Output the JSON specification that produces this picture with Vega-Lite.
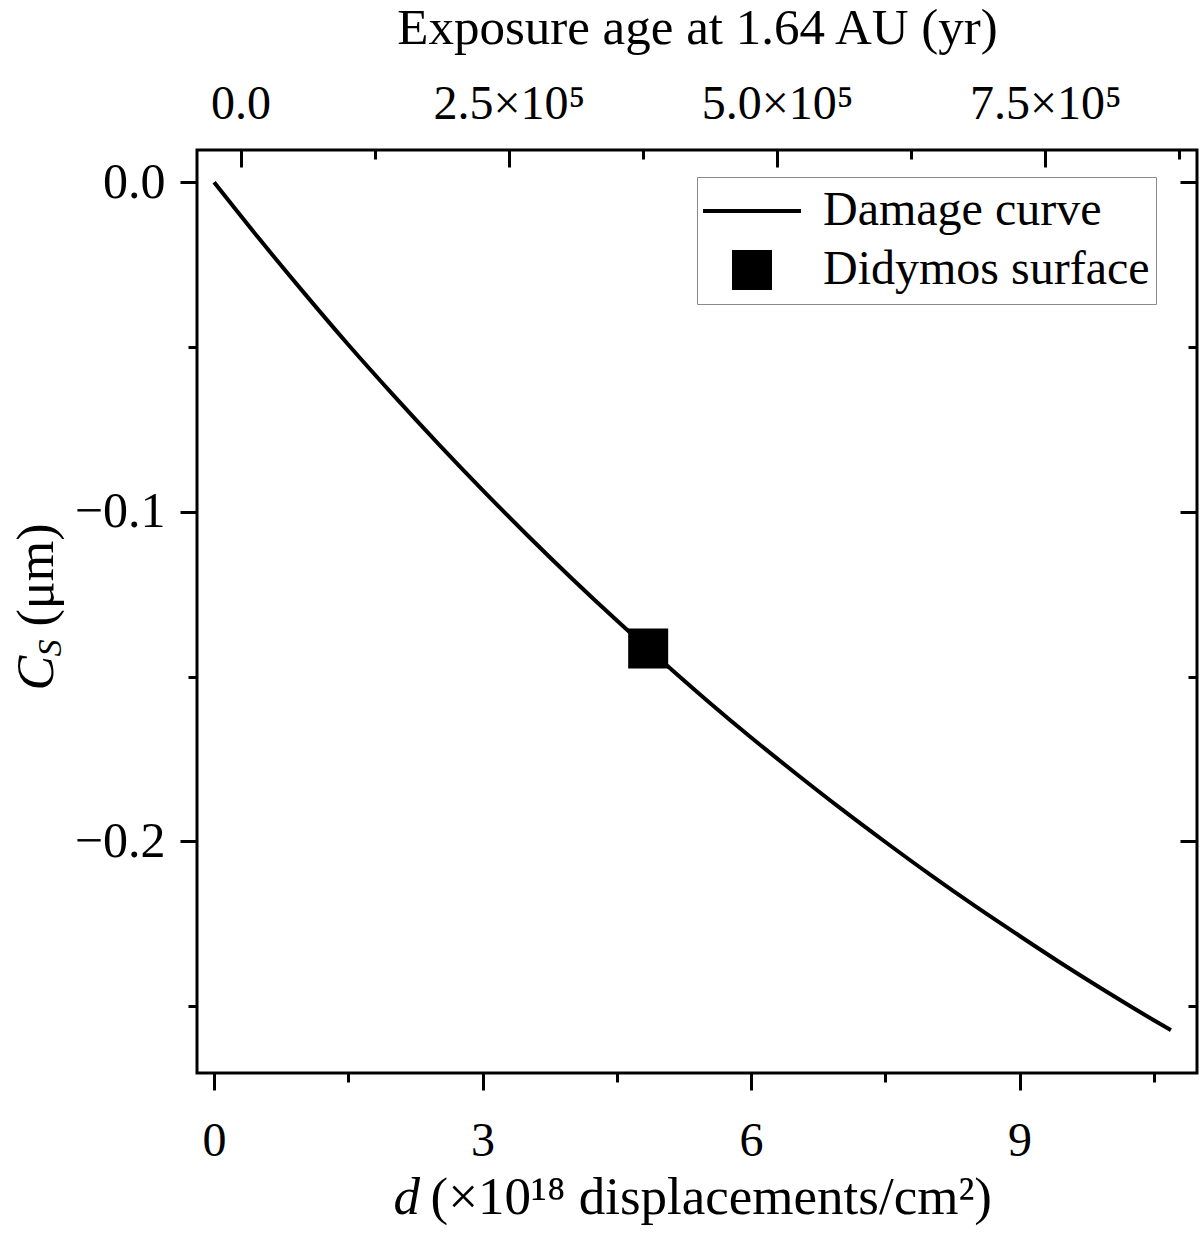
{
  "$schema": "https://vega.github.io/schema/vega-lite/v6.json",
  "autosize": "none",
  "width": 1000,
  "height": 923,
  "padding": {"left": 197, "top": 150, "right": 3, "bottom": 160},
  "background": "white",
  "datasets": {
    "curve": [
      {"d": 0, "C": 0},
      {"d": 0.5, "C": -0.0170},
      {"d": 1, "C": -0.0334},
      {"d": 1.5, "C": -0.0493},
      {"d": 2, "C": -0.0645},
      {"d": 2.5, "C": -0.0792},
      {"d": 3, "C": -0.0934},
      {"d": 3.5, "C": -0.1071},
      {"d": 4, "C": -0.1203},
      {"d": 4.5, "C": -0.1330},
      {"d": 5, "C": -0.1452},
      {"d": 5.5, "C": -0.1571},
      {"d": 6, "C": -0.1685},
      {"d": 6.5, "C": -0.1794},
      {"d": 7, "C": -0.1900},
      {"d": 7.5, "C": -0.2002},
      {"d": 8, "C": -0.2101},
      {"d": 8.5, "C": -0.2196},
      {"d": 9, "C": -0.2287},
      {"d": 9.5, "C": -0.2376},
      {"d": 10, "C": -0.2461},
      {"d": 10.5, "C": -0.2543},
      {"d": 10.69, "C": -0.2573}
    ],
    "marker": [
      {"series": "Didymos surface", "d": 4.85, "C": -0.1415, "age": 380000}
    ]
  },
  "layer": [
    {
      "data": {"name": "curve"},
      "mark": {"type": "line", "color": "black", "strokeWidth": 4, "interpolate": "monotone"},
      "encoding": {
        "x": {
          "field": "d", "type": "quantitative",
          "scale": {"domain": [-0.1911, 10.982], "nice": false, "zero": false},
          "axis": {
            "orient": "bottom", "values": [0, 3, 6, 9], "format": "d",
            "tickSize": 17, "labelPadding": 27, "labelFlush": false,
            "title": "(×10¹⁸ displacements/cm²)", "titleAlign": "left",
            "titleX": 233, "titleY": 140, "titleBaseline": "alphabetic", "titleFontSize": 53
          }
        },
        "y": {
          "field": "C", "type": "quantitative",
          "scale": {"domain": [-0.2703, 0.0098], "nice": false, "zero": false},
          "axis": {
            "orient": "left", "values": [0, -0.1, -0.2], "format": ".1f",
            "tickSize": 17, "labelPadding": 15, "labelFontSize": 50,
            "title": "(μm)", "titleAngle": 270, "titleAlign": "left",
            "titleX": -145, "titleY": 476, "titleBaseline": "alphabetic"
          }
        }
      }
    },
    {
      "data": {"name": "marker"},
      "mark": {"type": "point", "filled": true, "color": "black", "strokeWidth": 0, "opacity": 1},
      "encoding": {
        "x": {
          "field": "d", "type": "quantitative",
          "scale": {"domain": [-0.1911, 10.982], "nice": false, "zero": false},
          "axis": {
            "orient": "bottom", "values": [1.5, 4.5, 7.5, 10.5], "tickSize": 9,
            "labels": false, "title": "d", "titleFontStyle": "italic", "titleAlign": "left",
            "titleX": 196, "titleY": 140, "titleBaseline": "alphabetic", "titleFontSize": 53
          }
        },
        "y": {
          "field": "C", "type": "quantitative",
          "scale": {"domain": [-0.2703, 0.0098], "nice": false, "zero": false},
          "axis": {
            "orient": "left", "values": [-0.05, -0.15, -0.25], "tickSize": 9,
            "labels": false, "title": "C", "titleFontStyle": "italic", "titleAngle": 270,
            "titleAlign": "left", "titleX": -145, "titleY": 540, "titleBaseline": "alphabetic"
          }
        },
        "shape": {
          "field": "series", "type": "nominal",
          "scale": {"domain": ["Damage curve", "Didymos surface"], "range": ["M-1,-0.04H1V0.04H-1Z", "square"]},
          "legend": {
            "title": null, "orient": "none", "legendX": 500, "legendY": 27, "direction": "vertical",
            "padding": 6, "strokeColor": "#8a8a8a", "fillColor": "white",
            "labelFont": "Liberation Serif", "labelFontSize": 48, "labelColor": "black",
            "labelOffset": 22, "rowPadding": 3, "clipHeight": 56, "labelLimit": 0,
            "symbolStrokeWidth": 0, "symbolFillColor": "black"
          }
        },
        "size": {
          "field": "series", "type": "nominal",
          "scale": {"type": "ordinal", "domain": ["Damage curve", "Didymos surface"], "range": [9604, 1600]},
          "legend": {
            "title": null, "orient": "none", "legendX": 500, "legendY": 27, "direction": "vertical",
            "padding": 6, "strokeColor": "#8a8a8a", "fillColor": "white",
            "labelFont": "Liberation Serif", "labelFontSize": 48, "labelColor": "black",
            "labelOffset": 22, "rowPadding": 3, "clipHeight": 56, "labelLimit": 0,
            "symbolStrokeWidth": 0, "symbolFillColor": "black"
          }
        }
      }
    },
    {
      "data": {"name": "marker"},
      "mark": {"type": "point", "opacity": 0},
      "encoding": {
        "x": {
          "field": "age", "type": "quantitative",
          "scale": {"domain": [-40635, 891365], "nice": false, "zero": false},
          "axis": {
            "orient": "top", "values": [0, 250000, 500000, 750000], "tickSize": -17,
            "labelPadding": 39, "labelFlush": false, "labelFontSize": 48,
            "labelExpr": "datum.value === 0 ? '0.0' : format(datum.value / 100000, '.1f') + '×10⁵'",
            "title": "Exposure age at 1.64 AU (yr)", "titleFontSize": 51,
            "titleY": -107, "titleBaseline": "alphabetic"
          }
        },
        "y": {
          "field": "C", "type": "quantitative",
          "scale": {"domain": [-0.2703, 0.0098], "nice": false, "zero": false},
          "axis": {"orient": "right", "values": [0, -0.1, -0.2], "tickSize": -17, "labels": false, "title": null}
        }
      }
    },
    {
      "data": {"name": "marker"},
      "mark": {"type": "point", "opacity": 0},
      "encoding": {
        "x": {
          "field": "age", "type": "quantitative",
          "scale": {"domain": [-40635, 891365], "nice": false, "zero": false},
          "axis": {"orient": "top", "values": [125000, 375000, 625000, 875000], "tickSize": -9, "labels": false, "title": null}
        },
        "y": {
          "field": "C", "type": "quantitative",
          "scale": {"domain": [-0.2703, 0.0098], "nice": false, "zero": false},
          "axis": {"orient": "right", "values": [-0.05, -0.15, -0.25], "tickSize": -9, "labels": false, "title": null}
        }
      }
    },
    {
      "data": {"name": "marker"},
      "mark": {"type": "point", "opacity": 0},
      "encoding": {
        "y": {
          "field": "C", "type": "quantitative",
          "scale": {"domain": [-0.2703, 0.0098], "nice": false, "zero": false},
          "axis": {
            "orient": "left", "ticks": false, "labels": false,
            "title": "S", "titleFontStyle": "italic", "titleFontSize": 34, "titleAngle": 270,
            "titleAlign": "left", "titleX": -137, "titleY": 506, "titleBaseline": "alphabetic"
          }
        }
      }
    }
  ],
  "resolve": {"scale": {"x": "independent"}, "axis": {"x": "independent", "y": "independent"}},
  "config": {
    "view": {"stroke": "black", "strokeWidth": 3},
    "axis": {
      "domain": false, "grid": false,
      "tickColor": "black", "tickWidth": 3,
      "labelColor": "black", "titleColor": "black",
      "labelFont": "Liberation Serif", "titleFont": "Liberation Serif",
      "labelFontSize": 48, "titleFontSize": 52, "titleFontWeight": "normal"
    }
  }
}
